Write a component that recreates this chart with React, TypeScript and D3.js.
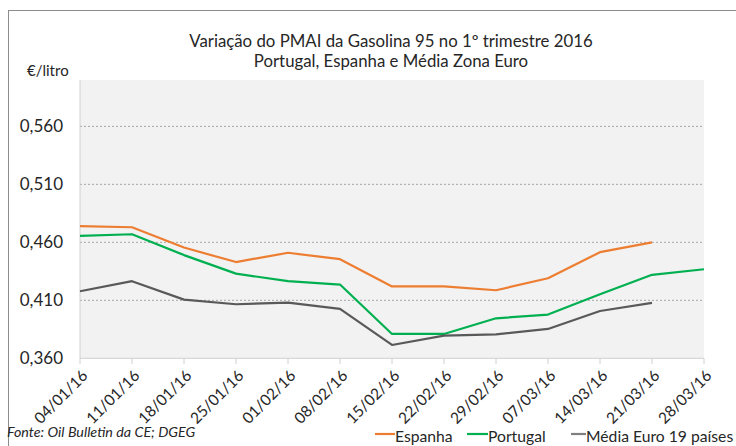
import React from "react";
import * as d3 from "d3";

const dates = ["04/01/16","11/01/16","18/01/16","25/01/16","01/02/16","08/02/16","15/02/16","22/02/16","29/02/16","07/03/16","14/03/16","21/03/16","28/03/16"];
const espanha: (number | null)[] = [0.474,0.473,0.4555,0.443,0.451,0.4455,0.422,0.422,0.4187,0.429,0.4515,0.460,null];
const portugal: (number | null)[] = [0.4656,0.467,0.449,0.433,0.4265,0.4236,0.381,0.381,0.3945,0.3977,0.4153,0.432,0.4368];
const media: (number | null)[] = [0.4178,0.4265,0.4106,0.4066,0.408,0.4026,0.3715,0.3795,0.3807,0.3853,0.4008,0.4078,null];
const yTicks = [0.36,0.41,0.46,0.51,0.56];

const FONT = "Lato, 'Open Sans', sans-serif";

export default function App() {
  const W = 736, H = 446;
  const x = d3.scalePoint<string>().domain(dates).range([80, 704]);
  const y = d3.scaleLinear().domain([0.36, 0.6]).range([358.3, 80]);
  const series = [
    { name: "Espanha", data: espanha, color: "#ED7D31" },
    { name: "Portugal", data: portugal, color: "#00B050" },
    { name: "Média Euro 19 países", data: media, color: "#595959" },
  ];
  const line = (data: (number | null)[]) =>
    d3.line<number | null>()
      .defined((d) => d !== null)
      .x((_, i) => x(dates[i]) as number)
      .y((d) => y(d as number))(data) || "";
  const fmt = (v: number) => v.toFixed(3).replace(".", ",");
  const legend = [
    { name: "Espanha", color: "#ED7D31", x0: 375, x1: 395 },
    { name: "Portugal", color: "#00B050", x0: 467, x1: 488 },
    { name: "Média Euro 19 países", color: "#7f7f7f", x0: 571, x1: 586 },
  ];
  return (
    <svg width={W} height={H} style={{ position: "fixed", left: 0, top: 0, background: "#fff" }} fontFamily={FONT}>
      <rect x={8.5} y={10.5} width={800} height={500} fill="#fff" stroke="#8c8c8c" strokeWidth={1} />
      <text x={391} y={47} textAnchor="middle" fontSize={16.8} fill="#262626">Variação do PMAI da Gasolina 95 no 1º trimestre 2016</text>
      <text x={391} y={67} textAnchor="middle" fontSize={16.8} fill="#262626">Portugal, Espanha e Média Zona Euro</text>
      <text x={27} y={76} fontSize={15} fill="#262626">€/litro</text>
      <rect x={80} y={80} width={624} height={278.3} fill="#f2f2f2" />
      {yTicks.filter((t) => t > 0.36).map((t) => (
        <line key={t} x1={80} x2={704} y1={y(t)} y2={y(t)} stroke="#a6a6a6" strokeWidth={1} strokeDasharray="2,2" />
      ))}
      <line x1={80} x2={80} y1={80} y2={358.3} stroke="#d0d0d0" strokeWidth={1} />
      <line x1={80} x2={704} y1={358.3} y2={358.3} stroke="#d0d0d0" strokeWidth={1} />
      {dates.map((d) => (
        <line key={d} x1={x(d)} x2={x(d)} y1={358.3} y2={364} stroke="#d0d0d0" strokeWidth={1} />
      ))}
      {yTicks.map((t) => (
        <text key={t} x={63} y={y(t)} dy="0.35em" textAnchor="end" fontSize={17} fill="#262626">{fmt(t)}</text>
      ))}
      {dates.map((d) => (
        <text key={d} transform={`translate(${(x(d) as number) + 1},${369}) rotate(-45)`} textAnchor="end" dy="0.7em" fontSize={15.5} fill="#262626">{d}</text>
      ))}
      {series.map((s) => (
        <path key={s.name} d={line(s.data)} fill="none" stroke={s.color} strokeWidth={2.2} strokeLinejoin="round" />
      ))}
      <text x={7} y={437} fontSize={14.3} fontStyle="italic" fill="#262626">Fonte: Oil Bulletin da CE; DGEG</text>
      {legend.map((l) => (
        <g key={l.name}>
          <line x1={l.x0} x2={l.x1} y1={434} y2={434} stroke={l.color} strokeWidth={2.2} />
          <text x={l.x1} y={442} fontSize={15.7} fill="#262626">{l.name}</text>
        </g>
      ))}
    </svg>
  );
}
